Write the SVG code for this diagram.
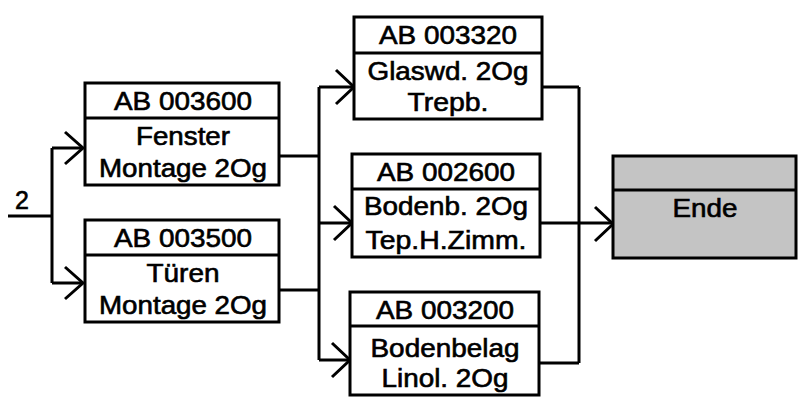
<svg xmlns="http://www.w3.org/2000/svg" width="810" height="405" viewBox="0 0 810 405">
<style>
.box{fill:#fff;stroke:#000;stroke-width:3}
.end{fill:#c4c4c4;stroke:#000;stroke-width:3}
.ln{fill:none;stroke:#000;stroke-width:3;stroke-linejoin:miter}
text{font-family:"Liberation Sans",Arial,sans-serif;font-size:25px;fill:#000;stroke:#000;stroke-width:0.6;text-anchor:middle}
</style>
<rect width="810" height="405" fill="#fff"/>
<g id="connectors">
<path class="ln" d="M8 216H52M52 148V283M52 148H83M52 283H83"/>
<path class="ln" d="M65 132L83 148L65 164M65 267L83 283L65 299"/>
<path class="ln" d="M279 156H319M279 290H319M319 87V360M319 87H354M319 223H352M319 360H350"/>
<path class="ln" d="M336 70L354 87L336 104M334 206L352 223L334 240M332 343L350 360L332 377"/>
<path class="ln" d="M542 87H579M539 363H579M579 87V363M540 223H613"/>
<path class="ln" d="M595 207L613 224L595 241"/>
<text x="22" y="209" font-size="24">2</text>
</g>
<g id="n003600">
<rect class="box" x="85" y="83" width="194" height="102"/>
<line class="ln" x1="85" y1="118" x2="279" y2="118"/>
<text x="183" y="110" textLength="138" lengthAdjust="spacingAndGlyphs">AB 003600</text>
<text x="183" y="145" textLength="94" lengthAdjust="spacingAndGlyphs">Fenster</text>
<text x="183" y="177" textLength="168" lengthAdjust="spacingAndGlyphs">Montage 2Og</text>
</g>
<g id="n003500">
<rect class="box" x="85" y="220" width="194" height="102"/>
<line class="ln" x1="85" y1="255" x2="279" y2="255"/>
<text x="183" y="247" textLength="138" lengthAdjust="spacingAndGlyphs">AB 003500</text>
<text x="183" y="282" textLength="73" lengthAdjust="spacingAndGlyphs">Türen</text>
<text x="183" y="314" textLength="168" lengthAdjust="spacingAndGlyphs">Montage 2Og</text>
</g>
<g id="n003320">
<rect class="box" x="354" y="17" width="188" height="102"/>
<line class="ln" x1="354" y1="53" x2="542" y2="53"/>
<text x="448" y="44" textLength="138" lengthAdjust="spacingAndGlyphs">AB 003320</text>
<text x="448" y="80" textLength="161" lengthAdjust="spacingAndGlyphs">Glaswd. 2Og</text>
<text x="448" y="111" textLength="81" lengthAdjust="spacingAndGlyphs">Trepb.</text>
</g>
<g id="n002600">
<rect class="box" x="352" y="154" width="188" height="103"/>
<line class="ln" x1="352" y1="189" x2="540" y2="189"/>
<text x="446" y="181" textLength="138" lengthAdjust="spacingAndGlyphs">AB 002600</text>
<text x="446" y="215" textLength="164" lengthAdjust="spacingAndGlyphs">Bodenb. 2Og</text>
<text x="446" y="249" textLength="161" lengthAdjust="spacingAndGlyphs">Tep.H.Zimm.</text>
</g>
<g id="n003200">
<rect class="box" x="350" y="292" width="189" height="103"/>
<line class="ln" x1="350" y1="326" x2="539" y2="326"/>
<text x="445" y="319" textLength="138" lengthAdjust="spacingAndGlyphs">AB 003200</text>
<text x="445" y="357" textLength="149" lengthAdjust="spacingAndGlyphs">Bodenbelag</text>
<text x="445" y="387" textLength="127" lengthAdjust="spacingAndGlyphs">Linol. 2Og</text>
</g>
<g id="ende">
<rect class="end" x="613" y="156" width="183" height="102"/>
<line class="ln" x1="613" y1="190" x2="796" y2="190"/>
<text x="705" y="217" textLength="65" lengthAdjust="spacingAndGlyphs">Ende</text>
</g>
</svg>
